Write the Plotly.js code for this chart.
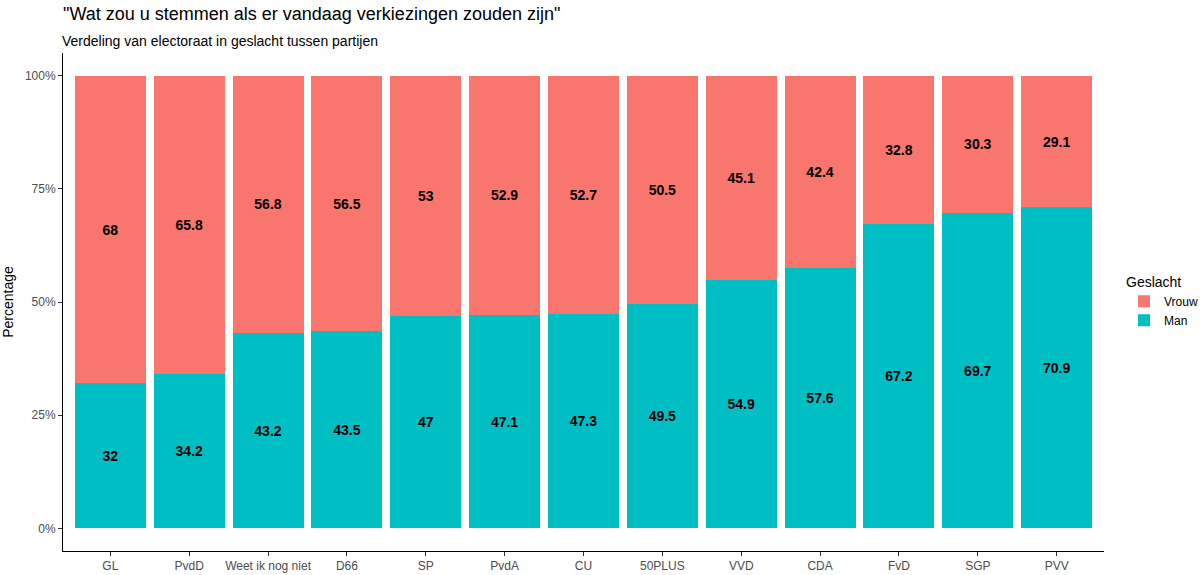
<!DOCTYPE html>
<html>
<head>
<meta charset="utf-8">
<script src="https://cdn.plot.ly/plotly-3.0.1.min.js"></script>
<style>html,body{margin:0;padding:0;background:#fff;}#chart{width:1200px;height:575px;}</style>
</head>
<body>
<div id="chart"></div>
<script>
const parties = ["GL","PvdD","Weet ik nog niet","D66","SP","PvdA","CU","50PLUS","VVD","CDA","FvD","SGP","PVV"];
const vrouw = [68,65.8,56.8,56.5,53,52.9,52.7,50.5,45.1,42.4,32.8,30.3,29.1];
const man = [32,34.2,43.2,43.5,47,47.1,47.3,49.5,54.9,57.6,67.2,69.7,70.9];
const yTickVals = [0,25,50,75,100];
const yTickText = ["0%","25%","50%","75%","100%"];

const font = "Liberation Sans, Arial, sans-serif";
const labelFont = {family: font, size: 14, color: "#000000", weight: "bold"};

const traces = [
  {type: "bar", name: "Man", x: parties, y: man, marker: {color: "#00BFC4"},
   text: man.map(String), textposition: "inside", insidetextanchor: "middle",
   textfont: labelFont, insidetextfont: labelFont, hoverinfo: "x+y"},
  {type: "bar", name: "Vrouw", x: parties, y: vrouw, marker: {color: "#F8766D"},
   text: vrouw.map(String), textposition: "inside", insidetextanchor: "middle",
   textfont: labelFont, insidetextfont: labelFont, hoverinfo: "x+y"}
];

const plotTop = 53, plotBottom = 551, plotH = plotBottom - plotTop;

const layout = {
  width: 1200, height: 575,
  margin: {l: 63, r: 96, t: plotTop, b: 575 - plotBottom, autoexpand: false},
  paper_bgcolor: "#ffffff", plot_bgcolor: "#ffffff",
  font: {family: font, color: "#4D4D4D"},
  barmode: "stack", bargap: 0.1,
  title: {text: "\"Wat zou u stemmen als er vandaag verkiezingen zouden zijn\"",
          font: {family: font, size: 18, color: "#000000"},
          x: 63/1200, xanchor: "left", xref: "container",
          y: 1 - 7/575, yanchor: "top", yref: "container"},
  annotations: [{text: "Verdeling van electoraat in geslacht tussen partijen", showarrow: false,
    xref: "paper", yref: "paper", x: 0, xanchor: "left", xshift: -3,
    y: (plotBottom - 31) / plotH, yanchor: "top",
    font: {family: font, size: 14, color: "#000000"}}],
  xaxis: {type: "category", range: [-0.6, 12.6], showgrid: false, zeroline: false,
    showline: true, linecolor: "#000000", linewidth: 1,
    ticks: "outside", ticklen: 4, tickcolor: "#333333",
    tickfont: {family: font, size: 12, color: "#4D4D4D"}, fixedrange: true},
  yaxis: {range: [-5, 105], showgrid: false, zeroline: false,
    showline: true, linecolor: "#000000", linewidth: 1,
    ticks: "outside", ticklen: 4, tickcolor: "#333333",
    tickvals: yTickVals, ticktext: yTickText,
    tickfont: {family: font, size: 12, color: "#4D4D4D"},
    title: {text: "Percentage", font: {family: font, size: 14, color: "#000000"}, standoff: 8},
    fixedrange: true},
  legend: {title: {text: "Geslacht", font: {family: font, size: 14, color: "#000000"}},
    traceorder: "reversed", xref: "container", x: 1124/1200, xanchor: "left",
    y: 0.5, yanchor: "middle",
    font: {family: font, size: 12, color: "#000000"}, itemwidth: 30},
  showlegend: true
};

Plotly.newPlot("chart", traces, layout, {displayModeBar: false, staticPlot: true});
</script>
</body>
</html>
